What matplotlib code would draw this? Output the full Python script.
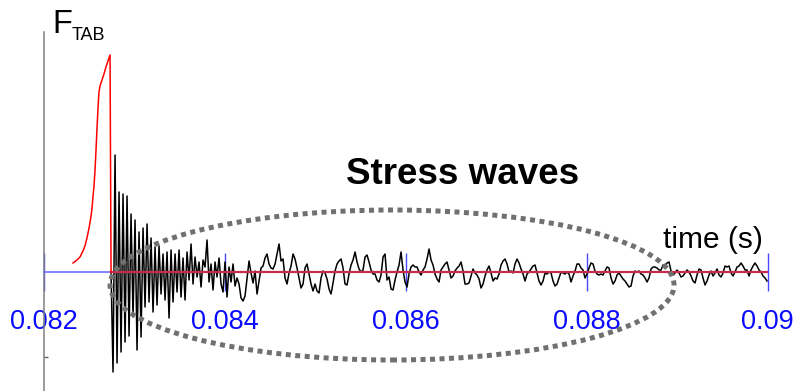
import numpy as np
import matplotlib
matplotlib.use("Agg")
import matplotlib.pyplot as plt
from matplotlib.patches import Ellipse

plt.rcParams['font.family'] = ['Liberation Sans', 'DejaVu Sans']

# Impact force pulse (time in s, force in arbitrary units)
pulse_t = [0.082324, 0.082368, 0.082401, 0.082434, 0.082456, 0.082478,
           0.082501, 0.082523, 0.082534, 0.082545, 0.082556, 0.082567,
           0.082578, 0.082589, 0.082600, 0.082611, 0.082622, 0.082644,
           0.082666, 0.082688, 0.082710, 0.082733, 0.082744]
pulse_f = [9, 12, 15, 21, 26, 34, 44, 56, 64, 76, 86, 102, 122, 144, 164,
           180, 186, 192, 198, 205, 211, 217, 0]

# Measured force after release: stress waves travelling through the bar
wave_t0 = 0.082744
wave_dt = 2.21e-5
wave_f = [
    0, -100, 117, -91, 80, -80, 78, -70, 76, -64, 58, -45, 52, -78, 40, -65,
    44, -35, 48, -30, 34, -40, 25, -33, 26, -22, 18, -28,
    20, -46, 22, -30, 18, -20, 22, -25, 14, -28, 20, -8, 28, -12, 15, -5,
    10, -15, 12, 5, 32, -10, 8, -18, 10, -5, 14, -12, -20, 10, -25, 5, -10,
    8, -14,
    -6, -12, -26, -29, -24, -6, 11, -1, -11, 1, -22, -9, 4, 6, 14, 18, 8, 4,
    3, 8, 18, 28, 11, 13, -6, -12, -1, 6, 18, 13, 4, -6, -16, -12, 4, 8, -2,
    -12, -19, -12, -19, -21, -6, 1, -1, -7, -17, -22, -11, 1, 8, 11, 13, 4,
    -12, -13, -2, 7, 12, 20, 10, 3, 0, 2, 15, 17, 10, 2, -2, -2, -8, -10, -3,
    15, 18, -8, -5, -17, -18, -8, 0, 7, 20, 2, -10, -15, -2, 5, 7, 5, 5, 0,
    -3, 2, 5, 13, 23, 12, 7, -2, -7, -10, 2, 5, 8, 10, 2,
    -6, -4, 1, 4, 6, 10, 1, -12, -12, -11, -4, 3, -1, -3, -7, -16, -12, -4,
    2, 6, -1, -9, -6, -7, -2, 7, 11, 13, 8, 0, 1, -1, 8, 13, 9, 3, -2, -9,
    -2, 0, 3, 6, 7, -1, -9, -13, -9, -1, -2, 0, -1, -9,
    -14, -12, -6, 0, -1, -2, 0, -2, -10, -4, 1, 8, 8, 4, 2, -6, -2, 4, 9, 8,
    1, -2, -3, -2, -3, 1, 5, 4, -6, -12, -9, -3, -1, -4, -7, -9, -12, -15,
    -14, -4, 1, 0, 1, -2, -3, -6, -10, -6, 3, 5, 5, 4, 2,
    2, 7, 6, 9, 10, 1, -3, -1, 2, -1, -5, -4, -1, 2, 0, -4, -9, -11, -3, 3,
    2, -6, -13, -9, -3, 1, -4, -1, 3, -3, -5, -1, 6, 5, 6, -1, -4, 0, 5, 6,
    9, 6, 2, 2, -4, 2, 6, 9, 6, 2, 0, -4, -6, -9,
]

tick_values = [0.082, 0.084, 0.086, 0.088, 0.090]
tick_labels = ["0.082", "0.084", "0.086", "0.088", "0.09"]

wave_t = wave_t0 + wave_dt * np.arange(len(wave_f))

fig = plt.figure(figsize=(7.97, 3.91), dpi=100)
ax = fig.add_axes([0, 0, 1, 1])
ax.set_facecolor('white')
ax.set_xlim(0.081517, 0.090324)
ax.set_ylim(-119, 272)

# axes through the origin
for side in ('top', 'right'):
    ax.spines[side].set_visible(False)
ax.spines['bottom'].set_position(('data', 0))
ax.spines['bottom'].set_bounds(tick_values[0], tick_values[-1])
ax.spines['bottom'].set_color('#6262ff')
ax.spines['bottom'].set_linewidth(1.1)
ax.spines['left'].set_position(('data', tick_values[0]))
ax.spines['left'].set_bounds(-119, 240)
ax.spines['left'].set_color('#808080')
ax.spines['left'].set_linewidth(1.1)

ax.set_xticks(tick_values)
ax.set_xticklabels(tick_labels)
ax.tick_params(axis='x', direction='inout', length=27, width=1.0,
               color='#4848ff', labelcolor='#0a0aff', labelsize=19.5, pad=13)
ax.set_yticks([-85])
ax.set_yticklabels([])
ax.tick_params(axis='y', direction='in', length=3, width=1.0, color='#606060')

# signals
ax.plot(wave_t, wave_f, color='black', lw=1.1, zorder=2)
ax.plot([wave_t[0], wave_t[-1]], [0, 0], color='#c8294f', lw=1.6, zorder=3)
ax.plot(pulse_t, pulse_f, color='#ff0000', lw=1.1, zorder=3)

# highlighted region
ell = Ellipse((0.085849, -13), 0.006232, 150, fill=False,
              edgecolor='#707070', lw=3.6, linestyle=(0, (1, 0.9)), zorder=4)
ax.add_patch(ell)

ax.text(0.086633, 98, "Stress waves", fontsize=26.5, fontweight='bold',
        ha='center', va='center', zorder=5)
ax.text(0.089948, 24, "time (s)", fontsize=21.5, ha='right',
        va='baseline', zorder=5)
ax.text(0.082092, 239, "F", fontsize=23.5, ha='left', va='baseline')
ax.text(0.082313, 232, "TAB", fontsize=13, ha='left', va='baseline')

fig.savefig('out.png', dpi=100)
